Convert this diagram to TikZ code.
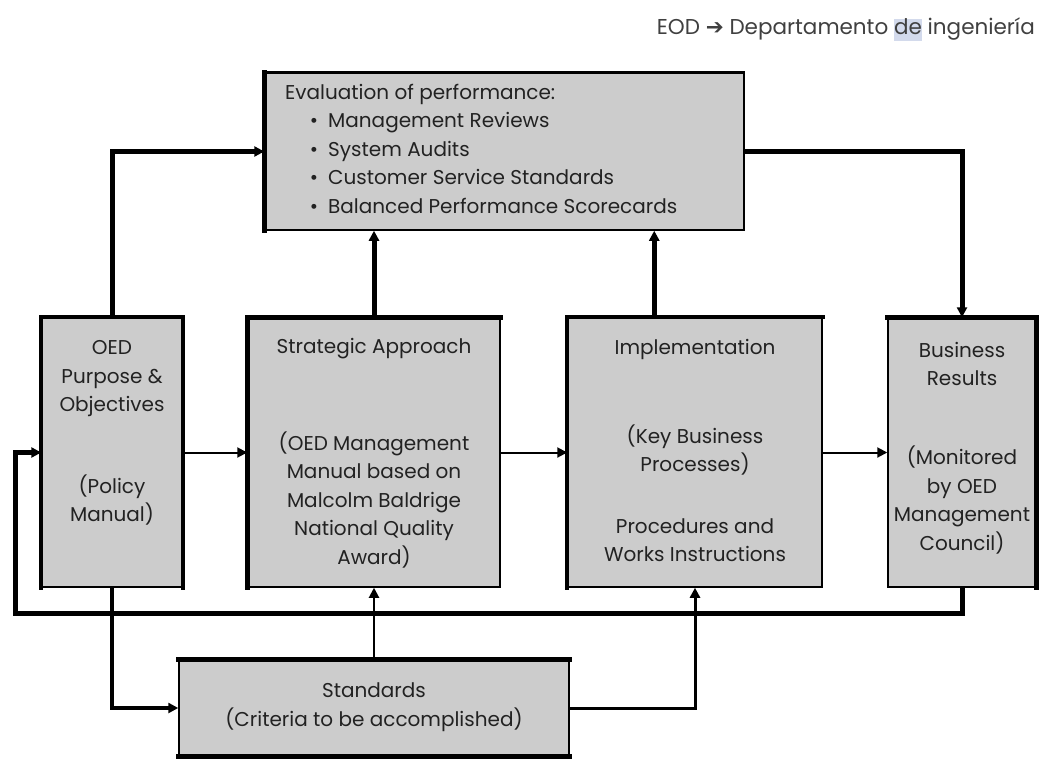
\documentclass[tikz,border=0pt]{standalone}
\usepackage{fontspec}
\setmainfont{Poppins}
\newfontfamily\symfont{DejaVu Sans}
\usetikzlibrary{arrows.meta,calc}
\definecolor{boxgray}{HTML}{CCCCCC}
\definecolor{txt}{HTML}{222222}
\definecolor{hl}{HTML}{D3DAEC}
\setlength{\fboxsep}{0pt}
\begin{document}
\begin{tikzpicture}[x=1pt,y=-1pt,
  box/.style={draw=black, line width=1.5pt, fill=boxgray, inner sep=0pt},
  lbl/.style={text=txt, font=\fontsize{20}{28.5}\selectfont, align=center, inner sep=0pt},
  heavy/.style={line width=5pt},
  light/.style={line width=2pt},
  tip/.style={-{Triangle[length=10pt,width=10pt]}},
  side/.style={line width=5pt, line cap=rect}]
\useasboundingbox (0,0) rectangle (1040,760);
% header
\node[text=black!75, font=\fontsize{21.5}{24}\selectfont, anchor=base east, inner sep=0pt] (hdr) at (1035,35) {EOD {\symfont\bfseries ➔} Departamento \colorbox{hl}{\vphantom{Dg}de} ingeniería};
% boxes
\node[box, minimum width=479pt, minimum height=157pt] (eval) at (504.5,151.5) {};
\node[box, minimum width=140pt, minimum height=269pt] (oed) at (112,452.5) {};
\node[box, minimum width=252pt, minimum height=269pt] (strat) at (374,452.5) {};
\node[box, minimum width=254pt, minimum height=269pt] (impl) at (695,452.5) {};
\node[box, minimum width=148pt, minimum height=269pt] (bus) at (962,452.5) {};
\node[box, minimum width=390pt, minimum height=96pt] (std) at (374,708) {};
% heavy sides
\draw[side] (eval.north west) -- (eval.south west);
\draw[line width=3pt] (eval.north west) -- (eval.north east);
\draw[side, line width=4pt] (oed.south west) -- (oed.north west) -- (oed.north east) -- (oed.south east);
\draw[side] (strat.south west) -- (strat.north west) -- (strat.north east);
\draw[side, line width=4pt] (impl.south west) -- (impl.north west) -- (impl.north east);
\draw[side] (bus.north west) -- (bus.north east) -- (bus.south east);
\draw[side] (std.north west) -- (std.north east);
\draw[side] (std.south west) -- (std.south east);
% texts
\node[lbl, align=left, anchor=base west] (evalT) at (285,213) {Evaluation of performance:\\
\hspace*{43pt}\llap{•\hspace{10pt}}Management Reviews\\
\hspace*{43pt}\llap{•\hspace{10pt}}System Audits\\
\hspace*{43pt}\llap{•\hspace{10pt}}Customer Service Standards\\
\hspace*{43pt}\llap{•\hspace{10pt}}Balanced Performance Scorecards};
\node[lbl] (oedA) at (112,379) {OED\\Purpose \&\\Objectives};
\node[lbl] (oedB) at (112,500) {(Policy\\Manual)};
\node[lbl] (stratA) at (374,349) {Strategic Approach};
\node[lbl] (stratB) at (374,500) {(OED Management\\Manual based on\\Malcolm Baldrige\\National Quality\\Award)};
\node[lbl] (implA) at (695,349) {Implementation};
\node[lbl] (implB) at (695,450) {(Key Business\\Processes)};
\node[lbl] (implC) at (695,540) {Procedures and\\Works Instructions};
\node[lbl] (busA) at (962,364) {Business\\Results};
\node[lbl] (busB) at (962,500) {(Monitored\\by OED\\Management\\Council)};
\node[lbl] (stdT) at (374,707) {Standards\\(Criteria to be accomplished)};
% connectors
\coordinate (iu) at ($(impl.north west)+(87,0)$);
\draw[heavy, tip] (oed.north) |- (eval.west);
\draw[heavy, tip] (strat.north) -- (strat.north |- eval.south);
\draw[heavy, tip] (iu) -- (iu |- eval.south);
\draw[heavy, tip] (eval.east) -| (bus.north);
\draw[light, tip] (oed.east) -- (strat.west);
\draw[light, tip] (strat.east) -- (impl.west);
\draw[light, tip] (impl.east) -- (bus.west);
\coordinate (fb) at (15,613);
\draw[line width=5pt, tip] (bus.south) |- (fb) |- (oed.west);
\draw[line width=3.5pt, tip] (oed.south) |- (std.west);
\draw[light, tip] (std.north) -- (strat.south);
\draw[line width=3pt, tip] (std.east) -| (impl.south);
\end{tikzpicture}
\end{document}
